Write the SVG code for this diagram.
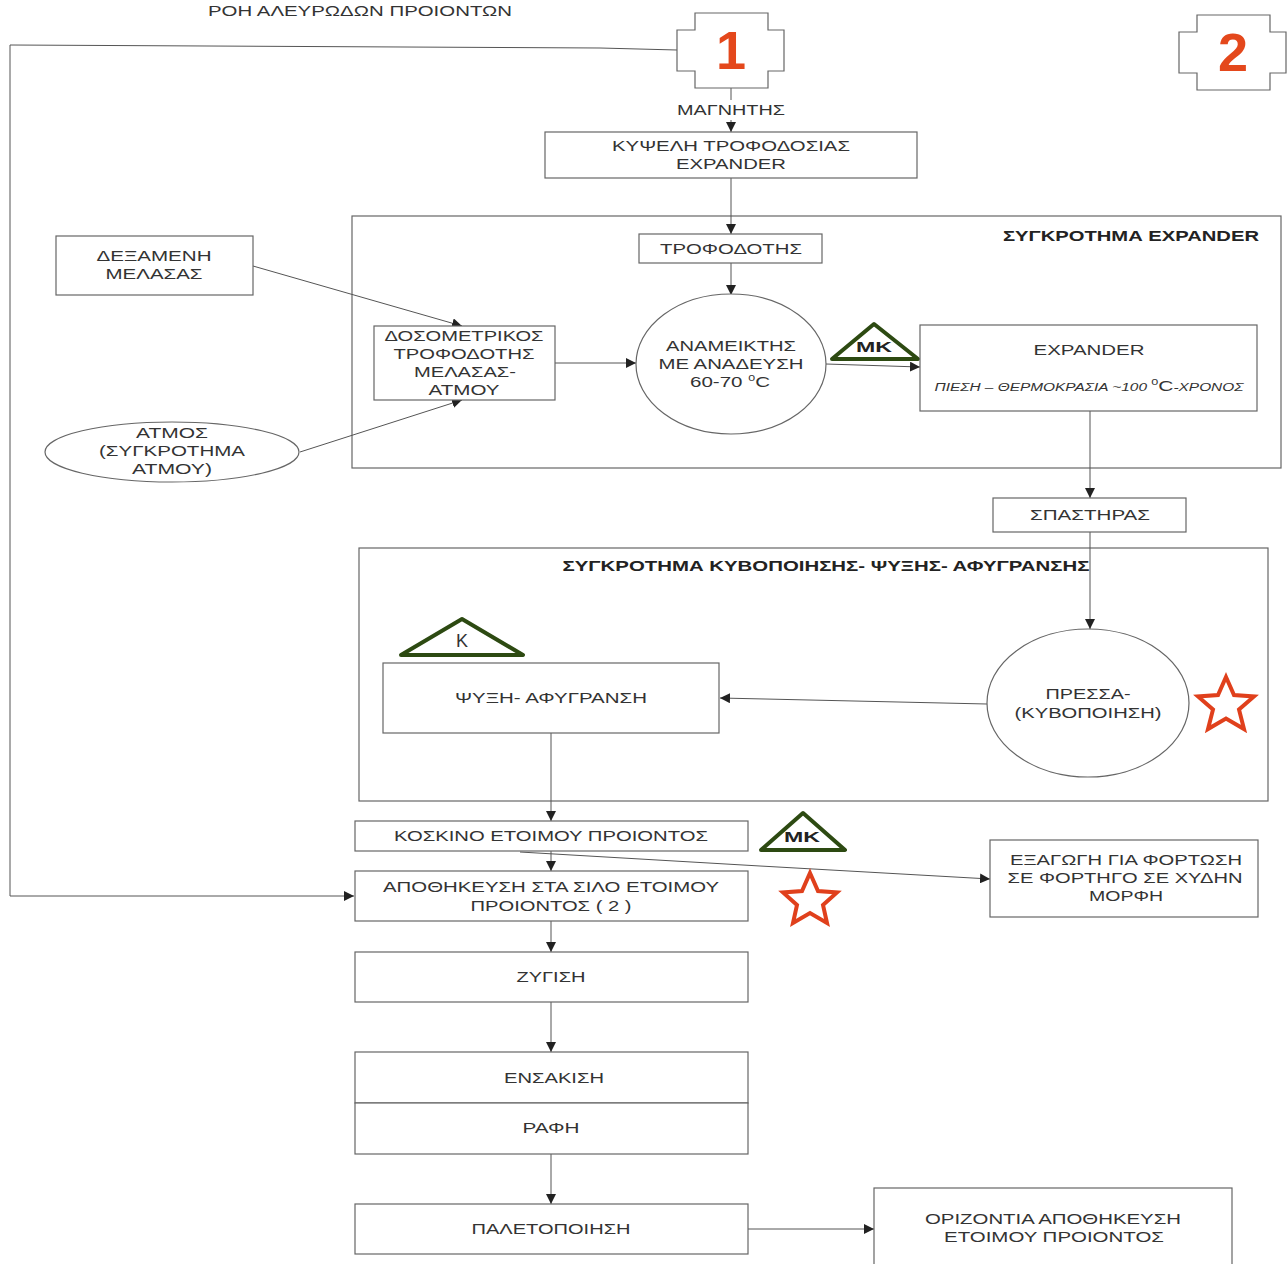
<svg xmlns="http://www.w3.org/2000/svg" width="1288" height="1264" viewBox="0 0 1288 1264">
<defs>
<marker id="ah" viewBox="0 0 10 10" refX="10" refY="5" markerWidth="10" markerHeight="10" markerUnits="userSpaceOnUse" orient="auto">
<path d="M0,0 L10,5 L0,10 z" fill="#222"/>
</marker>
<style>
text{font-family:"Liberation Sans",Arial,sans-serif;font-size:15px;fill:#333;text-anchor:middle}
.b{fill:#fff;stroke:#666;stroke-width:1.2}
.g{fill:none;stroke:#666;stroke-width:1.2}
.c{fill:none;stroke:#555;stroke-width:1;marker-end:url(#ah)}
.l{fill:none;stroke:#555;stroke-width:1}
.tri{fill:#fff;stroke:#2d4a12;stroke-width:4;stroke-linejoin:round}
.star{fill:#fff;stroke:#e0401c;stroke-width:4;stroke-linejoin:miter}
.num{font-size:54px;font-weight:bold;fill:#e4481c}
.bold{font-weight:bold;fill:#222}
.it{font-style:italic;font-size:11px}
</style>
</defs>
<rect width="1288" height="1264" fill="#fff"/>
<text x="360" y="16" textLength="304" lengthAdjust="spacingAndGlyphs">ΡΟΗ ΑΛΕΥΡΩΔΩΝ ΠΡΟΙΟΝΤΩΝ</text>

<g id="groups">
<rect id="grp-expander" class="g" x="352" y="216" width="929" height="252"/>
<text class="bold" x="1131" y="241" textLength="256" lengthAdjust="spacingAndGlyphs">ΣΥΓΚΡΟΤΗΜΑ EXPANDER</text>
<rect id="grp-kyvo" class="g" x="359" y="548" width="909" height="253"/>
<text class="bold" x="826" y="571" textLength="527" lengthAdjust="spacingAndGlyphs">ΣΥΓΚΡΟΤΗΜΑ ΚΥΒΟΠΟΙΗΣΗΣ- ΨΥΞΗΣ- ΑΦΥΓΡΑΝΣΗΣ</text>
</g>

<g id="connectors">
<path class="c" d="M677,50 L600,48 L10,45 L10,896 L354,896"/>
<path class="l" d="M731,88 L731,100"/>
<path class="c" d="M731,120 L731,132"/>
<path class="c" d="M731,178 L731,234"/>
<path class="c" d="M731,263 L731,295"/>
<path class="c" d="M253,266 L462,326"/>
<path class="c" d="M300,452 L462,400"/>
<path class="c" d="M555,363 L636,363"/>
<path class="c" d="M826,364 L920,367"/>
<path class="c" d="M1090,411 L1090,498"/>
<path class="c" d="M1090,532 L1090,629"/>
<path class="c" d="M987,704 L720,698"/>
<path class="c" d="M551,733 L551,821"/>
<path class="c" d="M551,851 L551,871"/>
<path class="c" d="M520,852 L760,866 L990,879"/>
<path class="c" d="M551,921 L551,952"/>
<path class="c" d="M551,1002 L551,1052"/>
<path class="c" d="M551,1154 L551,1204"/>
<path class="c" d="M748,1229 L874,1229"/>
</g>

<g id="badge1">
<path class="g" d="M695,13 L768,13 L768,30 L784,30 L784,71 L768,71 L768,88 L695,88 L695,71 L677,71 L677,30 L695,30 Z"/>
<text class="num" x="731" y="69">1</text>
</g>
<g id="badge2">
<path class="g" d="M1197,15 L1270,15 L1270,32 L1286,32 L1286,73 L1270,73 L1270,90 L1197,90 L1197,73 L1179,73 L1179,32 L1197,32 Z"/>
<text class="num" x="1233" y="71">2</text>
</g>

<g id="magnitis"><text x="731" y="115" textLength="108" lengthAdjust="spacingAndGlyphs">ΜΑΓΝΗΤΗΣ</text></g>

<g id="kypseli">
<rect class="b" x="545" y="132" width="372" height="46"/>
<text x="731" y="151" textLength="238" lengthAdjust="spacingAndGlyphs">ΚΥΨΕΛΗ ΤΡΟΦΟΔΟΣΙΑΣ</text>
<text x="731" y="169" textLength="110" lengthAdjust="spacingAndGlyphs">EXPANDER</text>
</g>

<g id="trofodotis">
<rect class="b" x="639" y="234" width="183" height="29"/>
<text x="731" y="254" textLength="142" lengthAdjust="spacingAndGlyphs">ΤΡΟΦΟΔΟΤΗΣ</text>
</g>

<g id="anameiktis">
<ellipse class="b" cx="731" cy="364" rx="95" ry="70"/>
<text x="731" y="351" textLength="130" lengthAdjust="spacingAndGlyphs">ΑΝΑΜΕΙΚΤΗΣ</text>
<text x="731" y="369" textLength="145" lengthAdjust="spacingAndGlyphs">ΜΕ ΑΝΑΔΕΥΣΗ</text>
<text x="730" y="387" textLength="80" lengthAdjust="spacingAndGlyphs">60-70 <tspan dy="-6" font-size="9">0</tspan><tspan dy="6">C</tspan></text>
</g>

<g id="dosometrikos">
<rect class="b" x="374" y="326" width="181" height="74"/>
<text x="464" y="341" textLength="159" lengthAdjust="spacingAndGlyphs">ΔΟΣΟΜΕΤΡΙΚΟΣ</text>
<text x="464" y="359" textLength="141" lengthAdjust="spacingAndGlyphs">ΤΡΟΦΟΔΟΤΗΣ</text>
<text x="465" y="377" textLength="102" lengthAdjust="spacingAndGlyphs">ΜΕΛΑΣΑΣ-</text>
<text x="464" y="395" textLength="71" lengthAdjust="spacingAndGlyphs">ΑΤΜΟΥ</text>
</g>

<g id="dexameni">
<rect class="b" x="56" y="236" width="197" height="59"/>
<text x="154" y="261" textLength="115" lengthAdjust="spacingAndGlyphs">ΔΕΞΑΜΕΝΗ</text>
<text x="154" y="279" textLength="97" lengthAdjust="spacingAndGlyphs">ΜΕΛΑΣΑΣ</text>
</g>

<g id="atmos">
<ellipse class="b" cx="172" cy="452" rx="127" ry="30"/>
<text x="172" y="438" textLength="72" lengthAdjust="spacingAndGlyphs">ΑΤΜΟΣ</text>
<text x="172" y="456" textLength="146" lengthAdjust="spacingAndGlyphs">(ΣΥΓΚΡΟΤΗΜΑ</text>
<text x="172" y="474" textLength="80" lengthAdjust="spacingAndGlyphs">ΑΤΜΟΥ)</text>
</g>

<g id="mk1">
<path class="tri" d="M874,324 L918,359 L832,359 Z"/>
<text class="bold" x="874" y="352" textLength="36" lengthAdjust="spacingAndGlyphs">ΜΚ</text>
</g>

<g id="expander">
<rect class="b" x="920" y="325" width="337" height="86"/>
<text x="1089" y="355" textLength="111" lengthAdjust="spacingAndGlyphs">EXPANDER</text>
<text class="it" x="1089" y="391" textLength="309" lengthAdjust="spacingAndGlyphs">ΠΙΕΣΗ – ΘΕΡΜΟΚΡΑΣΙΑ  ~100 <tspan dy="-6" font-size="9" font-style="normal">0</tspan><tspan dy="6" font-size="15" font-style="normal">C</tspan>-ΧΡΟΝΟΣ</text>
</g>

<g id="spastiras">
<rect class="b" x="993" y="498" width="193" height="34"/>
<text x="1090" y="520" textLength="120" lengthAdjust="spacingAndGlyphs">ΣΠΑΣΤΗΡΑΣ</text>
</g>

<g id="pressa">
<ellipse class="b" cx="1088" cy="703" rx="101" ry="74"/>
<text x="1088" y="699" textLength="85" lengthAdjust="spacingAndGlyphs">ΠΡΕΣΣΑ-</text>
<text x="1088" y="718" textLength="147" lengthAdjust="spacingAndGlyphs">(ΚΥΒΟΠΟΙΗΣΗ)</text>
</g>
<g id="star1">
<path class="star" d="M1226,677 L1234,695 L1254,696.5 L1239,709.5 L1244,729 L1226,718.5 L1208,729 L1213,709.5 L1198,696.5 L1218,695 Z"/>
</g>

<g id="k-tri">
<path class="tri" d="M462,619 L523,655 L401,655 Z"/>
<text x="462" y="647" style="font-size:18px">Κ</text>
</g>

<g id="psyxi">
<rect class="b" x="383" y="663" width="336" height="70"/>
<text x="551" y="703" textLength="192" lengthAdjust="spacingAndGlyphs">ΨΥΞΗ- ΑΦΥΓΡΑΝΣΗ</text>
</g>

<g id="koskino">
<rect class="b" x="355" y="821" width="393" height="30"/>
<text x="551" y="841" textLength="314" lengthAdjust="spacingAndGlyphs">ΚΟΣΚΙΝΟ ΕΤΟΙΜΟΥ ΠΡΟΙΟΝΤΟΣ</text>
</g>

<g id="mk2">
<path class="tri" d="M803,813 L845,850 L761,850 Z"/>
<text class="bold" x="802" y="842" textLength="36" lengthAdjust="spacingAndGlyphs">ΜΚ</text>
</g>

<g id="exagogi">
<rect class="b" x="990" y="840" width="268" height="77"/>
<text x="1126" y="865" textLength="232" lengthAdjust="spacingAndGlyphs">ΕΞΑΓΩΓΗ ΓΙΑ ΦΟΡΤΩΣΗ</text>
<text x="1125" y="883" textLength="235" lengthAdjust="spacingAndGlyphs">ΣΕ ΦΟΡΤΗΓΟ ΣΕ ΧΥΔΗΝ</text>
<text x="1126" y="901" textLength="74" lengthAdjust="spacingAndGlyphs">ΜΟΡΦΗ</text>
</g>

<g id="apothikeusi">
<rect class="b" x="355" y="871" width="393" height="50"/>
<text x="551" y="892" textLength="336" lengthAdjust="spacingAndGlyphs">ΑΠΟΘΗΚΕΥΣΗ ΣΤΑ ΣΙΛΟ ΕΤΟΙΜΟΥ</text>
<text x="551" y="911" textLength="161" lengthAdjust="spacingAndGlyphs">ΠΡΟΙΟΝΤΟΣ ( 2 )</text>
</g>
<g id="star2">
<path class="star" d="M810,873 L818,891 L837,892.5 L823,905 L827,923 L810,913 L793,923 L797,905 L783,892.5 L802,891 Z"/>
</g>

<g id="zygisi">
<rect class="b" x="355" y="952" width="393" height="50"/>
<text x="551" y="982" textLength="69" lengthAdjust="spacingAndGlyphs">ΖΥΓΙΣΗ</text>
</g>

<g id="ensakisi">
<rect class="b" x="355" y="1052" width="393" height="51"/>
<text x="554" y="1083" textLength="100" lengthAdjust="spacingAndGlyphs">ΕΝΣΑΚΙΣΗ</text>
</g>
<g id="rafi">
<rect class="b" x="355" y="1103" width="393" height="51"/>
<text x="551" y="1133" textLength="57" lengthAdjust="spacingAndGlyphs">ΡΑΦΗ</text>
</g>

<g id="paletopoiisi">
<rect class="b" x="355" y="1204" width="393" height="50"/>
<text x="551" y="1234" textLength="159" lengthAdjust="spacingAndGlyphs">ΠΑΛΕΤΟΠΟΙΗΣΗ</text>
</g>

<g id="orizontia">
<rect class="b" x="874" y="1188" width="358" height="84"/>
<text x="1053" y="1224" textLength="256" lengthAdjust="spacingAndGlyphs">ΟΡΙΖΟΝΤΙΑ ΑΠΟΘΗΚΕΥΣΗ</text>
<text x="1054" y="1242" textLength="220" lengthAdjust="spacingAndGlyphs">ΕΤΟΙΜΟΥ ΠΡΟΙΟΝΤΟΣ</text>
</g>
</svg>
